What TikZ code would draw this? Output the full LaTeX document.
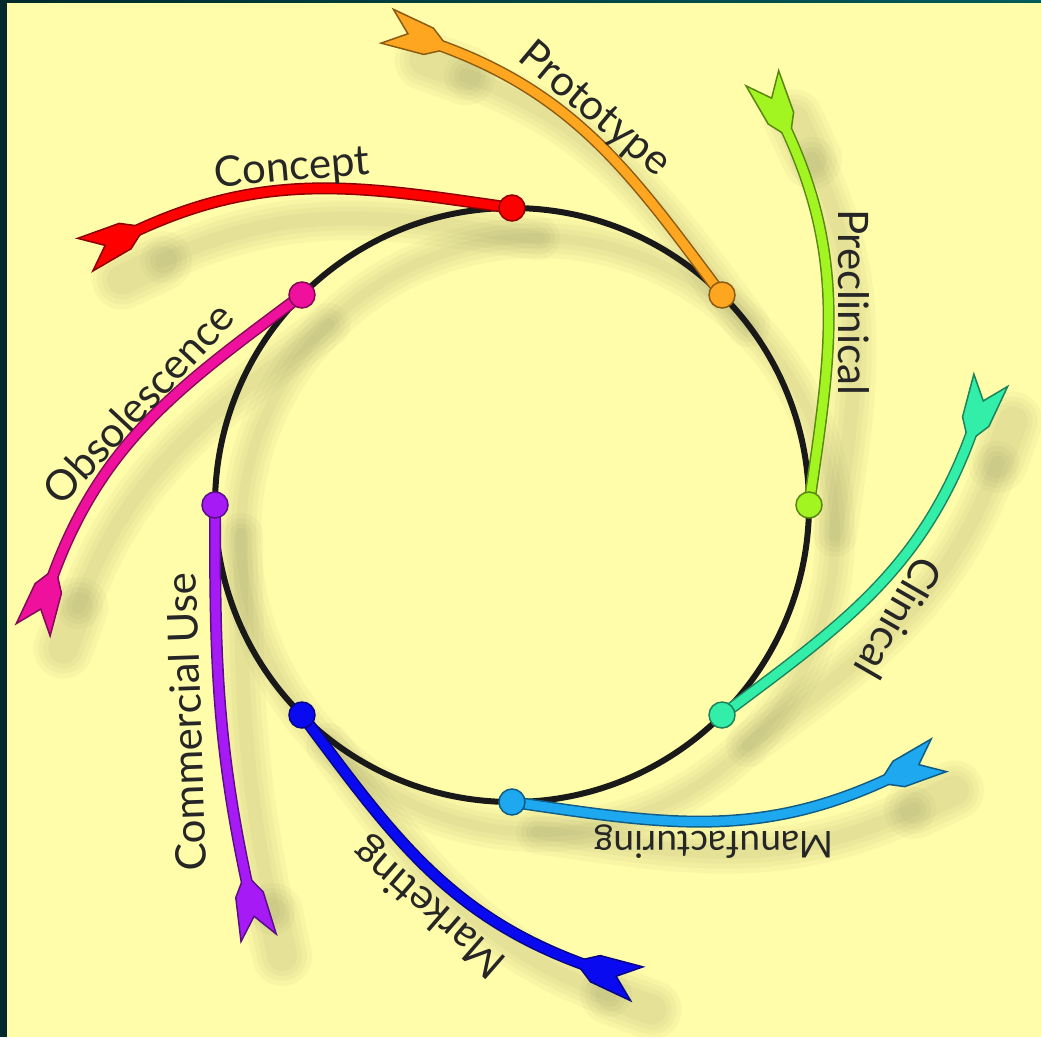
\documentclass[tikz,border=0pt]{standalone}
\usepackage{fontspec}
\setmainfont{Lato}
\usetikzlibrary{positioning}

\definecolor{paper}{HTML}{FFFCAA}
\definecolor{frameleft}{HTML}{002A2C}
\definecolor{frametop}{HTML}{005C5A}
\definecolor{cConcept}{HTML}{FF0000}
\definecolor{cPrototype}{HTML}{FFA620}
\definecolor{cPreclinical}{HTML}{A2F520}
\definecolor{cClinical}{HTML}{33EEA8}
\definecolor{cManufacturing}{HTML}{1EA8F0}
\definecolor{cMarketing}{HTML}{0A0AF0}
\definecolor{cCommercial}{HTML}{A51AF5}
\definecolor{cObsolescence}{HTML}{F0109E}

\begin{document}
\begin{tikzpicture}[
		x=1pt, y=1pt,
		stagedot/.style={circle, inner sep=0pt, minimum size=26pt, fill=#1, draw=#1!55!black, line width=1.5pt},
		shaft edge/.style={draw=#1!55!black, line width=12pt},
		shaft/.style={draw=#1, line width=9pt},
		tail/.style={fill=#1, draw=#1!55!black, line width=1.5pt, line join=miter},
		shadow/.style={black!80!paper, line join=round, line cap=round, opacity=0.032},
		stagetext/.style={font=\fontsize{42}{46}\selectfont, text=black!85, inner sep=0pt}
	]

		% Background
		\useasboundingbox (-512,-532) rectangle (529,505);
		\fill[frameleft] (-512,-532) rectangle (529,505);
		\fill[paper] (-505,-532) rectangle (529,502);
		\shade[left color=frameleft, right color=frametop] (-505,502) rectangle (529,505);

		% Shadows (flat: 0 = usual bend, 1 = straighter arrow)
		\begin{scope}[shift={(26,-30)}]
			\foreach \w in {40,30,20,10}
				\draw[shadow, line width=\w] (0,0) circle (297);
			\foreach \a/\f in {90/0,45/0,0/0,-45/0,-90/0,-135/0,180/1,135/0}{
				\begin{scope}[rotate=\a-90]
					\foreach \w in {44,34,24,14}{
						\draw[shadow, line width=\w] (0,297) .. controls ({-146-2*\f},{318-21*\f}) and ({-243+10*\f},{336-40*\f}) .. ({-376-2*\f},{274-9*\f});
						\draw[shadow, line width=\w+16, shift={({-376-2*\f},{274-9*\f})}, rotate=205-13*\f] (0,0) -- (44,0);
					}
				\end{scope}
			}
		\end{scope}

		% Ring
		\node[circle, draw=black!90, line width=6pt, minimum size=594pt, inner sep=0pt] (ring) at (0,0) {};

		% Arrows
		\foreach \n/\a/\c/\f in {concept/90/cConcept/0, prototype/45/cPrototype/0, preclinical/0/cPreclinical/0, clinical/-45/cClinical/0, manufacturing/-90/cManufacturing/0, marketing/-135/cMarketing/0, commercial/180/cCommercial/1, obsolescence/135/cObsolescence/0}{
			\begin{scope}[rotate=\a-90]
				\coordinate (\n-start) at (0,297);
				\coordinate (\n-end) at ({-376-2*\f},{274-9*\f});
				\draw[shaft edge=\c] (\n-start) .. controls ({-146-2*\f},{318-21*\f}) and ({-243+10*\f},{336-40*\f}) .. (\n-end);
				\filldraw[tail=\c, shift={(\n-end)}, rotate=205-13*\f] (-2,5) -- (12,14) -- (56,18) -- (34,0) -- (56,-18) -- (12,-14) -- (-2,-5) -- cycle;
				\draw[shaft=\c] (\n-start) .. controls ({-146-2*\f},{318-21*\f}) and ({-243+10*\f},{336-40*\f}) .. (\n-end);
				\node[stagedot=\c] (\n-dot) at (\n-start) {};
			\end{scope}
		}

		% Labels
		\node[stagetext, rotate=5] (concept-text) at (-220,336) {Concept};
		\node[stagetext, rotate=-40] (prototype-text) at (82,395) {Prototype};
		\node[stagetext, rotate=-90] (preclinical-text) at (342,203) {Preclinical};
		\node[stagetext, rotate=-120] (clinical-text) at (387,-113) {Clinical};
		\node[stagetext, font=\fontsize{37}{40}\selectfont, rotate=180] (manufacturing-text) at (202,-337) {Manufacturing};
		\node[stagetext, rotate=139] (marketing-text) at (-82,-402) {Marketing};
		\node[stagetext, rotate=92] (commercial-text) at (-326,-217) {Commercial Use};
		\node[stagetext, rotate=47] (obsolescence-text) at (-374,102) {Obsolescence};

	\end{tikzpicture}
\end{document}
